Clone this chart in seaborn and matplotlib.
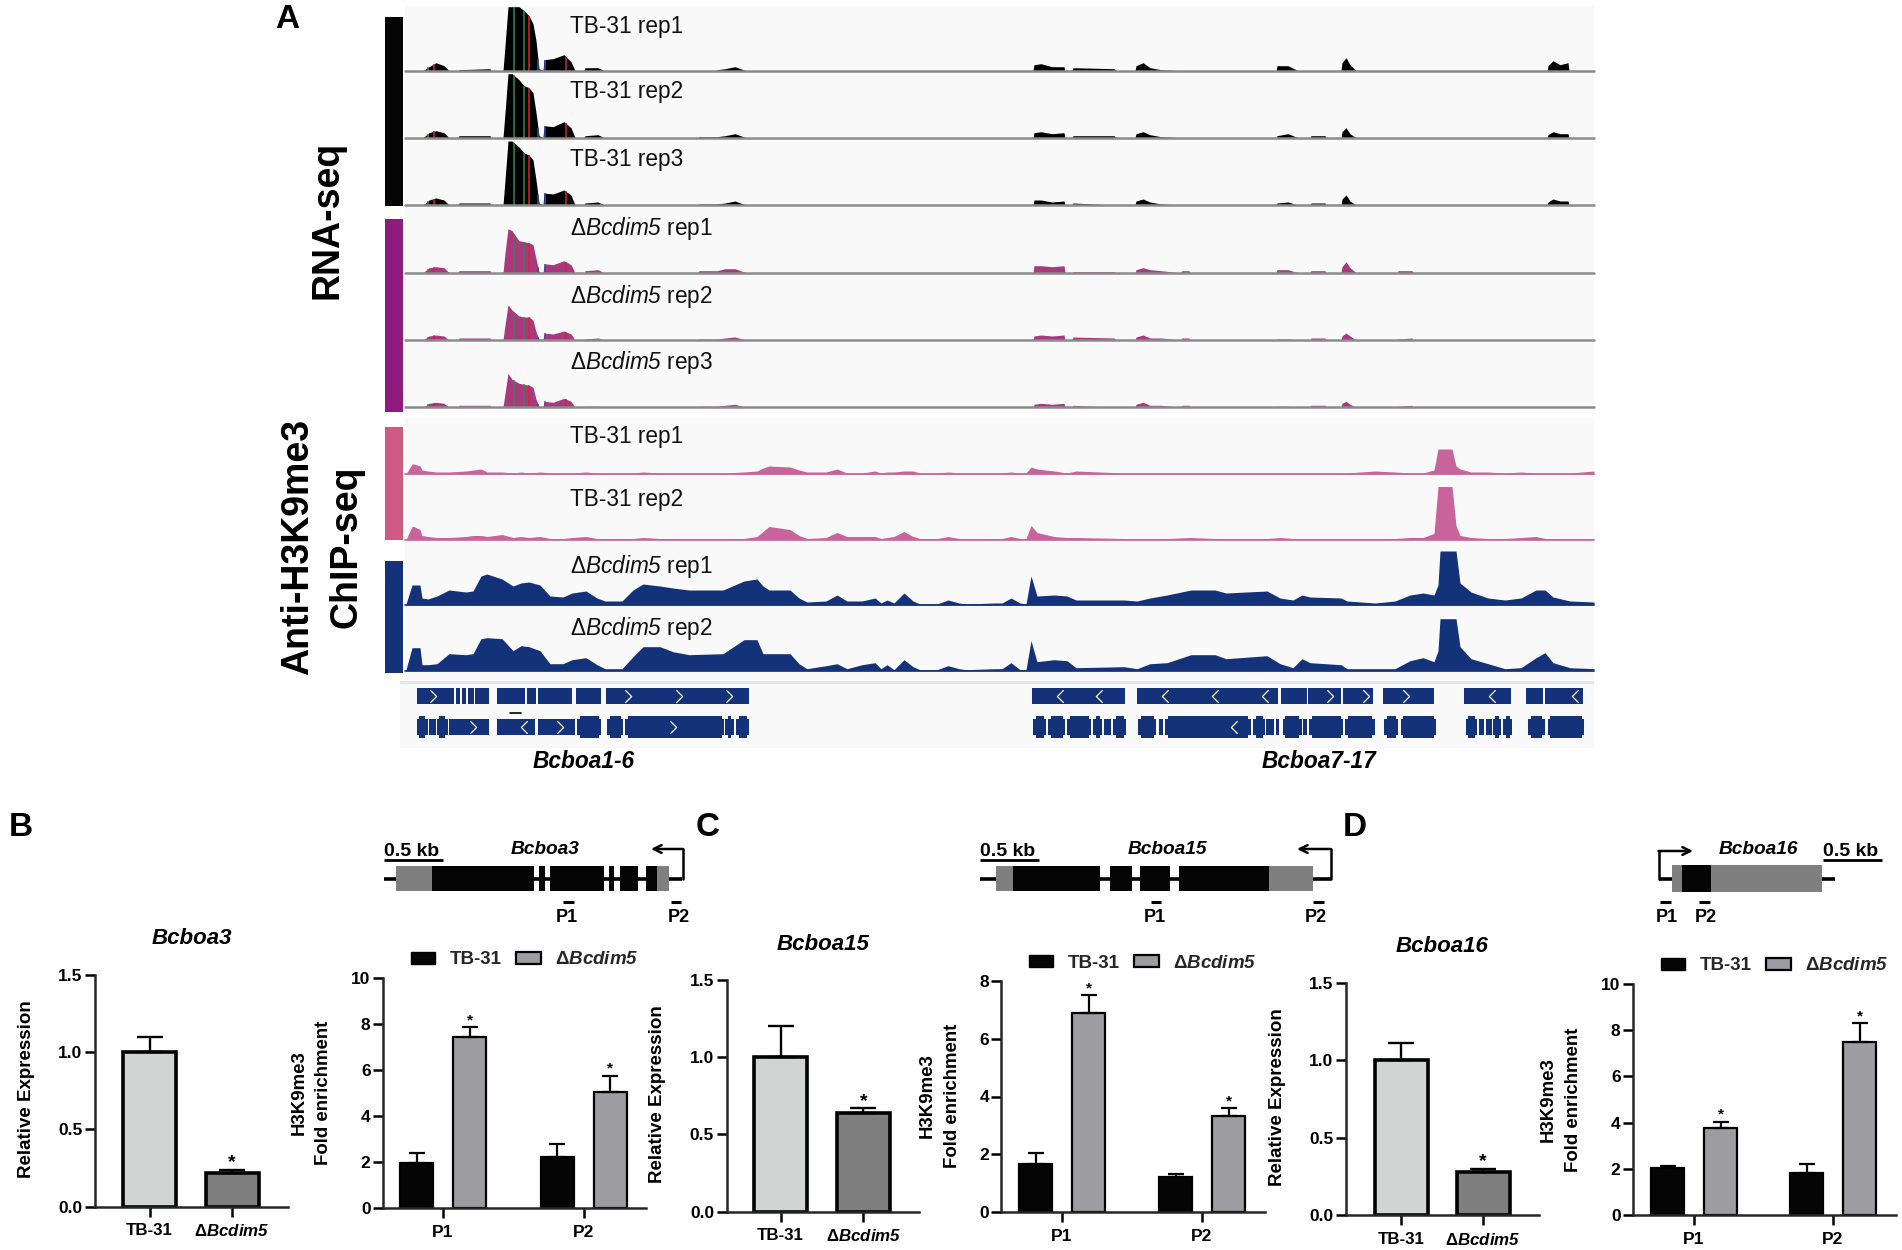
import matplotlib
matplotlib.use("Agg")
import matplotlib.pyplot as plt
import numpy as np
import pandas as pd
import seaborn as sns
from matplotlib.patches import Patch, Rectangle
from matplotlib.path import Path

W, H = 1902, 1250

sns.set_theme(style="ticks")
plt.rcParams["font.family"] = ["Liberation Sans", "DejaVu Sans"]
plt.rcParams["font.weight"] = "bold"
plt.rcParams["mathtext.fontset"] = "custom"
plt.rcParams["mathtext.rm"] = "Liberation Sans:regular"
plt.rcParams["mathtext.bf"] = "Liberation Sans:bold"
plt.rcParams["mathtext.bfit"] = "Liberation Sans:italic:bold"
plt.rcParams["mathtext.cal"] = "Liberation Sans:italic:regular"

TB31 = "TB-31"
DELTA_BOLD = r"$\mathbf{Δ}\mathbfit{Bcdim5}$"
STRAINS = [TB31, DELTA_BOLD]
SITES = ["P1", "P2"]

# RNA-seq coverage (one row per exon cluster)
rna_x = [423, 429, 436, 444, 449,
         458, 459, 490, 491,
         503, 505, 508, 512, 519, 524, 529, 533, 536, 539,
         543, 544, 553, 564, 571, 575,
         584, 585, 598, 604,
         698, 699, 716, 717, 725, 735, 746,
         1033, 1034, 1041, 1052, 1064, 1065,
         1072, 1073, 1114, 1116,
         1135, 1136, 1143, 1150, 1161, 1180, 1182, 1189, 1190,
         1276, 1277, 1288, 1298,
         1310, 1311, 1325, 1326,
         1341, 1342, 1346, 1350, 1356,
         1397, 1398, 1412, 1413,
         1547, 1548, 1553, 1560, 1568, 1569]
rna_tb1 = [0, 4, 8, 5, 0, 0, 1, 2, 0,
           0, 25, 64, 64, 64, 60, 55, 47, 30, 2,
           0, 11, 12, 16, 9, 0, 0, 3, 3, 0,
           0, 0, 0, 1, 2, 4, 0,
           0, 6, 7, 4, 4, 0, 0, 3, 2, 0,
           0, 5, 8, 3, 1, 0, 0, 0, 0,
           0, 5, 5, 0, 0, 0, 0, 0,
           0, 8, 13, 6, 0, 0, 0, 0, 0,
           0, 5, 10, 6, 8, 0]
rna_tb2 = [0, 5, 7, 5, 0, 0, 2, 2, 0,
           0, 25, 64, 64, 58, 52, 50, 45, 25, 2,
           0, 12, 11, 16, 10, 0, 0, 2, 3, 0,
           0, 1, 1, 1, 2, 4, 0,
           0, 5, 6, 4, 5, 0, 0, 2, 2, 0,
           0, 4, 6, 3, 1, 0, 0, 0, 0,
           0, 2, 4, 0, 0, 2, 2, 0,
           0, 6, 10, 4, 0, 0, 0, 0, 0,
           0, 3, 6, 4, 4, 0]
rna_tb3 = [0, 5, 7, 5, 0, 0, 2, 2, 0,
           0, 25, 64, 64, 58, 52, 50, 45, 25, 2,
           0, 12, 11, 15, 10, 0, 0, 2, 3, 0,
           0, 1, 1, 1, 2, 4, 0,
           0, 5, 5, 3, 4, 0, 0, 2, 0, 0,
           0, 4, 6, 3, 1, 0, 0, 0, 0,
           0, 2, 3, 0, 0, 2, 2, 0,
           0, 6, 10, 4, 0, 0, 0, 0, 0,
           0, 3, 6, 4, 4, 0]
rna_d1 = [0, 5, 6, 5, 0, 0, 2, 2, 0,
          0, 20, 44, 42, 32, 31, 30, 28, 14, 1,
          0, 9, 8, 12, 8, 0, 0, 2, 3, 0,
          0, 2, 2, 2, 4, 4, 0,
          0, 7, 7, 6, 7, 0, 0, 1, 1, 0,
          0, 3, 5, 3, 2, 0, 2, 2, 0,
          0, 3, 3, 0, 0, 2, 2, 0,
          0, 6, 11, 5, 0, 0, 2, 2, 0,
          0, 0, 0, 0, 0, 0]
rna_d2 = [0, 4, 5, 4, 0, 0, 2, 2, 0,
          0, 15, 35, 30, 24, 23, 23, 20, 8, 1,
          0, 7, 6, 9, 6, 0, 0, 1, 2, 0,
          0, 1, 1, 1, 2, 3, 0,
          0, 4, 5, 4, 5, 0, 0, 3, 2, 0,
          0, 3, 5, 2, 2, 0, 2, 2, 0,
          0, 1, 1, 0, 0, 2, 2, 0,
          0, 4, 7, 4, 0, 0, 1, 2, 0,
          0, 0, 0, 0, 0, 0]
rna_d3 = [0, 4, 5, 4, 0, 0, 2, 2, 0,
          0, 14, 34, 28, 24, 23, 22, 20, 8, 1,
          0, 6, 5, 9, 6, 0, 0, 1, 1, 0,
          0, 1, 1, 1, 2, 3, 0,
          0, 3, 4, 3, 4, 0, 0, 2, 0, 0,
          0, 3, 5, 2, 2, 0, 2, 2, 0,
          0, 1, 1, 0, 0, 2, 2, 0,
          0, 4, 6, 3, 0, 0, 1, 2, 0,
          0, 0, 0, 0, 0, 0]
mismatch_x = [428, 434, 514, 524, 529, 538, 545, 566]
mismatch_colors = ["#2e8b4a", "#d9232e", "#2e8b4a", "#2e8b4a", "#d9232e",
                   "#2a4fa8", "#2a4fa8", "#d9232e"]

# ChIP-seq coverage on a shared grid
chip_x = [406, 412, 414, 420, 422, 428, 437, 449, 466, 473,
          481, 487, 502, 513, 521, 529, 540, 550, 563, 572,
          586, 597, 605, 622, 633, 643, 660, 673, 689, 723,
          744, 757, 763, 769, 790, 799, 807, 826, 837, 847,
          862, 875, 881, 887, 894, 904, 913, 920, 937, 948,
          959, 966, 994, 1002, 1011, 1020, 1026, 1031, 1037, 1054,
          1067, 1076, 1124, 1137, 1150, 1167, 1191, 1215, 1226, 1267,
          1280, 1293, 1302, 1310, 1341, 1347, 1375, 1395, 1410, 1423,
          1434, 1438, 1440, 1452, 1456, 1460, 1471, 1488, 1505, 1521, 1536, 1545,
          1553, 1570, 1594]
chip_tb1 = [0, 10, 10, 8, 4, 3, 2, 2, 3, 4,
            5, 2, 2, 1, 2, 1, 2, 1, 1, 1,
            2, 1, 1, 1, 1, 2, 1, 1, 1, 1,
            2, 3, 6, 8, 7, 4, 2, 2, 5, 1,
            1, 3, 1, 2, 2, 3, 3, 1, 1, 2,
            1, 1, 1, 1, 2, 1, 1, 7, 5, 3,
            1, 3, 1, 1, 1, 1, 1, 1, 1, 1,
            1, 1, 1, 1, 1, 1, 3, 2, 1, 1,
            4, 25, 25, 25, 8, 5, 2, 2, 1, 2, 1, 1,
            1, 1, 3]
chip_tb2 = [0, 13, 13, 10, 4, 3, 2, 2, 3, 4,
            4, 3, 5, 2, 3, 2, 3, 1, 1, 2,
            3, 1, 1, 1, 1, 2, 1, 1, 1, 1,
            1, 3, 8, 13, 10, 4, 1, 2, 7, 3,
            3, 3, 1, 2, 3, 8, 3, 1, 1, 3,
            1, 1, 1, 1, 3, 1, 1, 14, 7, 3,
            2, 2, 1, 1, 1, 1, 2, 1, 1, 1,
            2, 1, 1, 1, 1, 1, 1, 1, 2, 2,
            6, 53, 53, 53, 14, 4, 2, 1, 1, 2, 3, 1,
            1, 1, 1]
chip_d1 = [1, 20, 20, 20, 7, 6, 9, 15, 13, 14,
           29, 31, 26, 19, 22, 23, 20, 9, 8, 12,
           14, 7, 4, 4, 15, 21, 19, 17, 15, 15,
           24, 26, 19, 15, 15, 7, 3, 4, 10, 4,
           4, 7, 2, 5, 2, 12, 4, 1, 1, 5,
           2, 1, 2, 2, 7, 2, 1, 29, 9, 10,
           9, 5, 5, 4, 7, 10, 15, 15, 12, 14,
           7, 5, 10, 8, 7, 4, 2, 4, 10, 12,
           10, 20, 54, 54, 54, 22, 13, 7, 5, 7, 15, 15,
           8, 4, 3]
chip_d2 = [1, 23, 23, 23, 6, 6, 7, 17, 16, 17,
           32, 33, 32, 20, 25, 24, 20, 7, 7, 11,
           13, 6, 2, 2, 14, 24, 24, 19, 16, 17,
           31, 31, 17, 17, 17, 7, 2, 5, 7, 2,
           6, 8, 2, 6, 1, 11, 4, 1, 1, 5,
           2, 1, 2, 2, 8, 1, 1, 30, 9, 11,
           10, 3, 4, 2, 7, 8, 16, 16, 12, 15,
           7, 3, 12, 8, 6, 2, 2, 2, 10, 13,
           9, 20, 52, 52, 52, 24, 12, 7, 2, 3, 13, 18,
           8, 3, 2]

# gene models: (start, end)
genes_top = [(417, 449), (449.5, 453.7), (456, 460), (462, 466), (468.5, 474), (475.5, 489),
             (497, 525), (527, 536), (538, 572), (576, 601), (606, 749),
             (1032, 1125), (1137, 1278), (1281, 1307), (1308, 1341), (1343, 1373),
             (1383, 1434), (1464, 1511), (1526, 1543), (1545, 1583)]
genes_bottom = [(417, 428), (429, 436), (437, 448), (449.5, 489), (497, 534.5), (538, 575),
                (577, 601), (607, 623), (625, 724), (725, 733.6), (736, 749),
                (1033, 1046), (1048, 1065), (1067, 1091), (1093, 1102), (1104, 1111),
                (1113, 1126), (1138, 1156), (1158.5, 1163), (1165, 1250.5), (1253, 1265),
                (1266, 1273.5), (1276, 1279), (1282.5, 1301.6), (1303, 1307), (1309, 1343),
                (1345, 1374.5), (1384, 1398), (1400.5, 1436), (1465.6, 1477), (1479, 1484),
                (1486, 1491.6), (1492.5, 1501), (1503, 1512), (1528, 1544.5), (1547.5, 1584)]
genes_bottom_thin = [(449.5, 489), (497, 534.5), (538, 575)]
chevrons_top_right = [433, 628, 679, 729, 1330, 1366, 1406]
chevrons_top_left = [1060, 1099, 1165, 1215, 1265, 1492, 1575]
chevrons_bottom_right = [473, 560, 673]
chevrons_bottom_left = [524, 1234]

# bar values
b_expr = [1.0, 0.22]
b_expr_err = [0.10, 0.02]
b_tb = [1.95, 2.2]
b_tb_err = [0.45, 0.6]
b_d = [7.45, 5.05]
b_d_err = [0.4, 0.7]
c_expr = [1.0, 0.64]
c_expr_err = [0.20, 0.03]
c_tb = [1.67, 1.2]
c_tb_err = [0.38, 0.12]
c_d = [6.9, 3.32]
c_d_err = [0.6, 0.28]
d_expr = [1.0, 0.28]
d_expr_err = [0.11, 0.02]
d_tb = [2.03, 1.8]
d_tb_err = [0.07, 0.4]
d_d = [3.75, 7.47]
d_d_err = [0.28, 0.83]


fig = plt.figure(figsize=(W / 100, H / 100), dpi=100, facecolor="white")


def px_axes(x0, y0, x1, y1):
    return fig.add_axes([x0 / W, 1 - y1 / H, (x1 - x0) / W, (y1 - y0) / H])


def track(values, xs, base, height, color, x0=405, x1=1594):
    ax = px_axes(x0, base - height, x1, base)
    ax.axis("off")
    ax.patch.set_alpha(0)
    ax.fill_between(xs, 0, values, color=color, lw=0)
    ax.set_xlim(x0, x1)
    ax.set_ylim(0, height)
    return ax


# backgrounds go first so the tracks sit on top of them
for box in [(405, 6, 1594, 413), (405, 418, 1594, 681), (400, 681, 1594, 748)]:
    bg = px_axes(*box)
    bg.set_facecolor("#f9f9f9")
    bg.set_xticks([])
    bg.set_yticks([])
    sns.despine(ax=bg, left=True, bottom=True)

RNA_TRACKS = [(rna_tb1, 70.7, "#000000"), (rna_tb2, 137.7, "#000000"), (rna_tb3, 205, "#000000"),
              (rna_d1, 272.7, "#a9397e"), (rna_d2, 340, "#a9397e"), (rna_d3, 407.3, "#a9397e")]
for vals, base, col in RNA_TRACKS:
    ax = track(vals, rna_x, base, 65, col)
    tops = np.interp(mismatch_x, rna_x, vals)
    ax.vlines(mismatch_x, 0, tops, colors=mismatch_colors, lw=1.1,
              alpha=1 if col == "#000000" else 0.75)
    ax.axhline(0, color="#8b8b8b", lw=1.8, clip_on=False)

for vals, base, col in [(chip_tb1, 474, "#c9639b"), (chip_tb2, 539.5, "#c9639b"),
                        (chip_d1, 605, "#14327a"), (chip_d2, 670.7, "#14327a")]:
    ax = track(vals, chip_x, base, 58, col)
    ax.axhline(0, color=col, lw=1.2, clip_on=False)

# gene models
NAVY = "#14327a"
gax = px_axes(400, 681, 1594, 748)
gax.axis("off")
gax.patch.set_alpha(0)
gax.set_xlim(400, 1594)
gax.set_ylim(67, 0)
gax.axhline(1, color="#e6e6e2", lw=2.4)
gax.broken_barh([(a, b - a) for a, b in genes_top], (7, 16), color=NAVY, lw=0)
# the lower row has tapered ends: a slim box under an inset tall one
thick = [g for g in genes_bottom if g not in genes_bottom_thin]
gax.broken_barh([(a, b - a) for a, b in genes_bottom], (38, 16), color=NAVY, lw=0)
gax.broken_barh([(a + 2.5, b - a - 5) for a, b in thick if b - a > 8], (35, 22), color=NAVY, lw=0)
gax.plot([510, 521], [32, 32], color="black", lw=1.2)
right_chev = Path([(-0.5, -1), (0.5, 0), (-0.5, 1)], [Path.MOVETO, Path.LINETO, Path.LINETO])
left_chev = Path([(0.5, -1), (-0.5, 0), (0.5, 1)], [Path.MOVETO, Path.LINETO, Path.LINETO])
for xs, y, mk in [(chevrons_top_right, 15, right_chev), (chevrons_top_left, 15, left_chev),
                  (chevrons_bottom_right, 46, right_chev), (chevrons_bottom_left, 46, left_chev)]:
    gax.plot(xs, [y] * len(xs), ls="", marker=mk, ms=9, mfc="none", mec="white", mew=0.9)


def finish_axis(ax, yticks):
    ax.set_xlabel("")
    ax.set_ylabel("")
    ax.set_yticks(yticks)
    sns.despine(ax=ax)
    for side in ["left", "bottom"]:
        ax.spines[side].set_linewidth(1.8)
    ax.tick_params(axis="both", length=7, width=1.8, labelsize=12.5, color="black", labelcolor="black")
    ax.tick_params(axis="y", pad=2)
    ax.tick_params(axis="x", pad=5)
    ax.patch.set_alpha(0)


def star(ax, x, y, size):
    ax.annotate("*", (x, y), xytext=(0, 5), textcoords="offset points",
                ha="center", va="center", fontsize=size, color="black")


def expr_panel(box, ticks, bar_px, values, errs):
    x0, y0, x1, y1 = box
    ax = px_axes(*box)
    df = pd.DataFrame({"strain": STRAINS, "value": values})
    sns.barplot(df, x="strain", y="value", hue="strain", palette=["#d2d3d3", "#7f7f7f"],
                width=bar_px / (ticks[1] - ticks[0]), saturation=1, edgecolor="black",
                linewidth=2.6, legend=False, ax=ax)
    u = ticks[1] - ticks[0]
    ax.set_xlim((x0 - ticks[0]) / u, (x1 - ticks[0]) / u)
    ax.set_ylim(0, 1.5)
    centers = [p.get_x() + p.get_width() / 2 for p in ax.patches]
    ax.errorbar(centers, values, yerr=[[0, 0], errs], fmt="none", ecolor="black",
                elinewidth=1.7, capsize=9.5, capthick=1.7)
    star(ax, centers[1], values[1] + errs[1], 14)
    finish_axis(ax, [0, 0.5, 1.0, 1.5])
    ax.set_yticklabels(["0.0", "0.5", "1.0", "1.5"])
    ax.tick_params(axis="x", labelsize=12.2)
    return ax


def enrich_panel(box, ticks, bar_px, off_px, ymax, yticks, tb, tb_err, d, d_err, stars, legend_px):
    x0, y0, x1, y1 = box
    ax = px_axes(*box)
    u = ticks[1] - ticks[0]
    df = pd.DataFrame({"site": SITES * 2, "strain": [TB31] * 2 + [DELTA_BOLD] * 2, "value": tb + d})
    group_w = 4 * off_px / u
    sns.barplot(df, x="site", y="value", hue="strain", palette=["#050505", "#9d9da1"],
                width=group_w, gap=1 - bar_px / u / (group_w / 2), saturation=1,
                edgecolor="black", linewidth=1.6, legend=False, ax=ax)
    ax.set_xlim((x0 - ticks[0]) / u, (x1 - ticks[0]) / u)
    ax.set_ylim(0, ymax)
    centers = [p.get_x() + p.get_width() / 2 for p in ax.patches]
    tops = tb + d
    errs = tb_err + d_err
    ax.errorbar(centers, tops, yerr=[[0] * 4, errs], fmt="none", ecolor="black",
                elinewidth=1.6, capsize=6, capthick=1.6)
    for i in stars:
        star(ax, centers[i], tops[i] + errs[i], 11)
    finish_axis(ax, yticks)
    ax.tick_params(axis="x", labelsize=12.5)
    handles = [Patch(facecolor="#050505", edgecolor="black", label=TB31),
               Patch(facecolor="#9d9da1", edgecolor="black", linewidth=1.6, label=DELTA_BOLD)]
    fig.legend(handles=handles, loc="center left", ncol=2, frameon=False, fontsize=13.5,
               bbox_to_anchor=(legend_px[0] / W, 1 - legend_px[1] / H), borderpad=0,
               borderaxespad=0, handlelength=1.3, handleheight=0.65, handletextpad=0.75,
               columnspacing=0.8)
    return ax


expr_panel((95, 975, 288, 1206.7), (149.5, 232), 53, b_expr, b_expr_err)
enrich_panel((383, 978, 646, 1208), (443, 583.5), 33, 26.5, 10, [0, 2, 4, 6, 8, 10],
             b_tb, b_tb_err, b_d, b_d_err, [2, 3], (411, 960))
expr_panel((726.6, 980, 919, 1211.7), (780.5, 863.4), 53, c_expr, c_expr_err)
enrich_panel((1001.5, 981, 1264.5, 1212), (1062, 1202), 33, 26.5, 8, [0, 2, 4, 6, 8],
             c_tb, c_tb_err, c_d, c_d_err, [2, 3], (1029, 963))
expr_panel((1346, 983, 1539, 1215), (1401, 1483), 53, d_expr, d_expr_err)
enrich_panel((1633, 984, 1896, 1215), (1694, 1833), 33, 26.5, 10, [0, 2, 4, 6, 8, 10],
             d_tb, d_tb_err, d_d, d_d_err, [2, 3], (1661, 966))

# overlay in pixel coordinates for labels and the gene schematics
top = fig.add_axes([0, 0, 1, 1])
top.axis("off")
top.patch.set_alpha(0)
top.set_xlim(0, W)
top.set_ylim(H, 0)

for x0, y0, x1, y1, col in [(385, 17, 403, 206, "#050505"), (385, 219, 403, 412, "#8f1a80"),
                            (385, 427, 403, 540, "#cf5a83"), (385, 561, 403, 673, "#14327a")]:
    top.add_patch(Rectangle((x0, y0), x1 - x0, y1 - y0, color=col, lw=0))

DELTA_REG = r"$\mathrm{Δ}\mathcal{Bcdim5}$"
track_labels = ["TB-31 rep1", "TB-31 rep2", "TB-31 rep3",
                DELTA_REG + " rep1", DELTA_REG + " rep2", DELTA_REG + " rep3",
                "TB-31 rep1", "TB-31 rep2", DELTA_REG + " rep1", DELTA_REG + " rep2"]
track_label_y = [26.5, 91.5, 159.5, 228.5, 296.5, 362.5, 436.5, 499.5, 566.5, 628.5]
for lab, y in zip(track_labels, track_label_y):
    top.text(570, y, lab, fontsize=16.3, fontweight="normal", color="#111111", ha="left", va="center")

top.text(328, 220, "RNA-seq", rotation=90, fontsize=27, ha="center", va="center", color="black")
top.text(298, 547, "Anti-H3K9me3", rotation=90, fontsize=27, ha="center", va="center", color="black")
top.text(346, 547, "ChIP-seq", rotation=90, fontsize=27, ha="center", va="center", color="black")
top.text(584, 761, "Bcboa1-6", fontsize=16.3, style="italic", ha="center", va="center", color="black")
top.text(1319, 761, "Bcboa7-17", fontsize=16.3, style="italic", ha="center", va="center", color="black")

for s, x, y in [("A", 287, 20), ("B", 21, 828), ("C", 708, 828), ("D", 1355, 828)]:
    top.text(x, y, s, fontsize=24, ha="center", va="center", color="black")

for s, x, y in [("Bcboa3", 192, 938), ("Bcboa15", 823, 944), ("Bcboa16", 1442, 947)]:
    top.text(x, y, s, fontsize=16, style="italic", ha="center", va="center", color="black")

for x, y in [(27, 1089), (658, 1094), (1278, 1097)]:
    top.text(x, y, "Relative Expression", rotation=90, fontsize=13.5, ha="center", va="center", color="black")
for x1, x2, y in [(299, 323.5, 1093), (927.5, 952.7, 1096), (1548, 1573.6, 1100)]:
    top.text(x1, y, "H3K9me3", rotation=90, fontsize=13.4, ha="center", va="center", color="black")
    top.text(x2, y, "Fold enrichment", rotation=90, fontsize=13.4, ha="center", va="center", color="black")

GRAY_UTR = "#7f7f7f"
schemes = [
    dict(line=(384, 682), utr=[(395.5, 432), (657, 668.7)],
         cds=[(432, 534), (539, 544.6), (550, 603.5), (609, 614), (619.6, 637.5), (646, 657)],
         y=(865.7, 890.7), elbow=(683, 849), tip=651,
         p=[(563, 573.6, 567), (670.5, 681, 678.5)], kb=(384, 443), name=("Bcboa3", 545.5)),
    dict(line=(980.4, 1330.6), utr=[(996, 1013), (1268.7, 1313)],
         cds=[(1013, 1100), (1109.6, 1132), (1140, 1170), (1179, 1268.7)],
         y=(865.7, 890.7), elbow=(1330.6, 849), tip=1297,
         p=[(1151, 1161.4, 1155), (1313, 1323.5, 1316)], kb=(980, 1039), name=("Bcboa15", 1167.7)),
    dict(line=(1658.5, 1835), utr=[(1672, 1682), (1711, 1822)], cds=[(1682, 1711)],
         y=(864.5, 891.7), elbow=(1658.5, 851), tip=1693,
         p=[(1659.6, 1671, 1667), (1698.6, 1710, 1706)], kb=(1823, 1881.6), name=("Bcboa16", 1758)),
]
for sc in schemes:
    y0, y1 = sc["y"]
    mid = (y0 + y1) / 2 + 0.5
    top.plot(sc["line"], [mid, mid], color="black", lw=2.6, solid_capstyle="butt")
    top.broken_barh([(a, b - a) for a, b in sc["utr"]], (y0, y1 - y0), color=GRAY_UTR, lw=0, zorder=3)
    top.broken_barh([(a, b - a) for a, b in sc["cds"]], (y0, y1 - y0), color="#050505", lw=0, zorder=3)
    ex, ey = sc["elbow"]
    top.plot([ex, ex], [mid, ey], color="black", lw=1.8)
    top.annotate("", xy=(sc["tip"], ey), xytext=(ex, ey),
                 arrowprops=dict(arrowstyle="->", color="black", lw=1.8, shrinkA=0, shrinkB=0, mutation_scale=14))
    for a, b, lx in sc["p"]:
        top.plot([a, b], [901.7, 901.7], color="black", lw=2.2, solid_capstyle="butt")
    for (a, b, lx), s in zip(sc["p"], SITES):
        top.text(lx, 917, s, fontsize=13, ha="center", va="center", color="black")
    ka, kb = sc["kb"]
    top.plot([ka, kb], [860, 860], color="black", lw=2, solid_capstyle="butt")
    top.text((ka + kb) / 2 - 2, 851, "0.5 kb", fontsize=14, ha="center", va="center", color="black")
    top.text(sc["name"][1], 849, sc["name"][0], fontsize=13.8, style="italic", ha="center", va="center", color="black")

fig.savefig("out.png", dpi=100)
